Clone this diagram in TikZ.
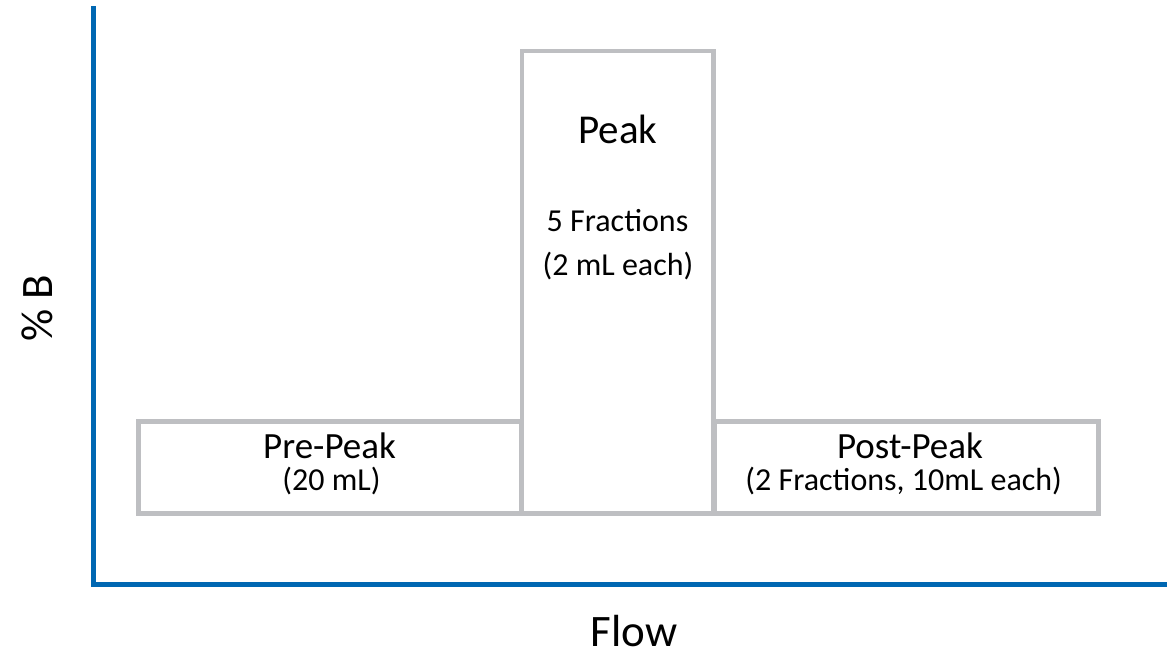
\documentclass[tikz,border=0pt]{standalone}
\usepackage{fontspec}
\setmainfont{Carlito}
\definecolor{axisblue}{RGB}{0,103,178}
\definecolor{boxgray}{RGB}{190,191,194}
\tikzset{
  axisline/.style={draw=axisblue, line width=5.5pt, line join=miter},
  boxnode/.style={draw=boxgray, line width=4.6pt, rectangle, inner sep=0pt, fill=white},
  bigtxt/.style={font=\fontsize{37}{44}\selectfont, anchor=base, inner sep=0pt},
  smalltxt/.style={font=\fontsize{32}{38}\selectfont, anchor=base, inner sep=0pt},
  axistxt/.style={font=\fontsize{45}{54}\selectfont, anchor=base, inner sep=0pt}
}
\begin{document}
\begin{tikzpicture}[x=1pt,y=-1pt]
\useasboundingbox (0,0) rectangle (1167,653);
% axes
\coordinate (ytop) at (93.5,6);
\coordinate (origin) at (93.5,584.5);
\coordinate (xend) at (1167,584.5);
\draw[axisline] (ytop) -- (origin) -- (xend);
% boxes
\node[boxnode, minimum width=383pt, minimum height=92pt] (pre) at (330,467.5) {};
\node[boxnode, minimum width=384pt, minimum height=92pt] (post) at (906.5,467.5) {};
\node[boxnode, minimum width=191.5pt, minimum height=462.5pt, fill=none] (peak) at (617.75,282.25) {};
% texts
\node[bigtxt] (pretitle) at (329.5,458.3) {Pre-Peak};
\node[smalltxt] (presub) at (331.5,490.5) {(20 mL)};
\node[bigtxt] (posttitle) at (910,458.3) {Post-Peak};
\node[smalltxt] (postsub) at (903.7,490.5) {(2 Fractions, 10mL each)};
\node[bigtxt, font=\fontsize{41}{48}\selectfont] (peaktitle) at (618,143.3) {Peak};
\node[smalltxt] (peaksub1) at (617.5,231.7) {5 Fractions};
\node[smalltxt] (peaksub2) at (618,275) {(2 mL each)};
\node[axistxt, rotate=90] (ylabel) at (52.7,308) {\% B};
\node[axistxt] (xlabel) at (634,646.7) {Flow};
\end{tikzpicture}
\end{document}
